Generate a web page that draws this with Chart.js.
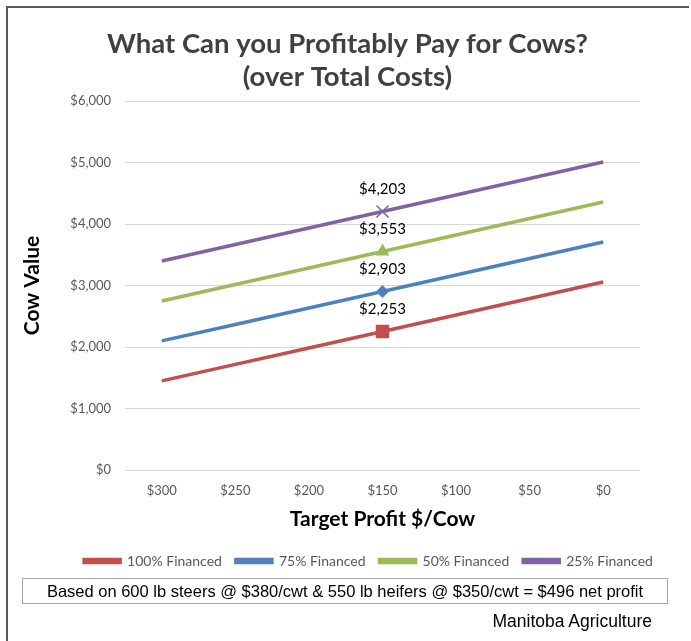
<!DOCTYPE html>
<html>
<head>
<meta charset="utf-8">
<script src="https://cdn.jsdelivr.net/npm/chart.js@4.4.1/dist/chart.umd.min.js"></script>
<style>
  body { margin: 0; background: #fff; }
  #wrap { position: relative; width: 691px; height: 641px; overflow: hidden; background: #fff; }
  #frame { position: absolute; left: 6px; top: 6px; width: 681px; height: 700px;
           border-left: 2px solid #595959; border-top: 2px solid #595959; }
  #cowChart { position: absolute; left: 0; top: 0; }
  #note { position: absolute; left: 22px; top: 578px; width: 644px; height: 24px;
          border: 1px solid #A6A6A6; font: 16.5px "Liberation Sans", Arial, sans-serif;
          color: #000; text-align: center; line-height: 24px; white-space: nowrap; }
  #source { position: absolute; right: 39px; top: 611px;
            font: 17.5px "Liberation Sans", Arial, sans-serif; color: #000; }
</style>
</head>
<body>
<div id="wrap">
  <div id="frame"></div>
  <canvas id="cowChart" width="691" height="641"></canvas>
  <div id="note">Based on 600 lb steers @ $380/cwt &amp; 550 lb heifers @ $350/cwt = $496 net profit</div>
  <div id="source">Manitoba Agriculture</div>
</div>
<script>
const targetProfit = ['$300', '$250', '$200', '$150', '$100', '$50', '$0'];

const financed100 = [1449, 1717, 1985, 2253, 2521, 2789, 3057];
const financed75 = [2099, 2367, 2635, 2903, 3171, 3439, 3707];
const financed50 = [2749, 3017, 3285, 3553, 3821, 4089, 4357];
const financed25 = [3399, 3667, 3935, 4203, 4471, 4739, 5007];

const markedIndex = 3; // only the $150 point gets a marker + label

const FONT = 'Lato, "Open Sans", sans-serif';

function money(v) {
    return '$' + Number(v).toLocaleString('en-US');
}

// radius only on the marked point
function radiusAt(r) {
    return targetProfit.map((_, i) => i === markedIndex ? r : 0);
}

// draws the "$2,253" style labels above the marked points
const pointLabels = {
    id: 'pointLabels',
    afterDatasetsDraw(chart) {
        const ctx = chart.ctx;
        ctx.save();
        ctx.font = '15px ' + FONT;
        ctx.fillStyle = '#000';
        ctx.textAlign = 'center';
        ctx.textBaseline = 'middle';
        chart.data.datasets.forEach((ds, di) => {
            const pt = chart.getDatasetMeta(di).data[markedIndex];
            ctx.fillText(money(ds.data[markedIndex]), pt.x, pt.y - 22);
        });
        ctx.restore();
    }
};

// legend sits a bit right of the title in the original
const legendShift = {
    id: 'legendShift',
    afterLayout(chart) {
        chart.legend.left += 21;
        chart.legend.right += 21;
    }
};

new Chart('cowChart', {
    type: 'line',
    data: {
        labels: targetProfit,
        datasets: [{
            label: '100% Financed',
            data: financed100,
            borderColor: '#C0504D',
            backgroundColor: '#C0504D',
            pointStyle: 'rect',
            pointRadius: radiusAt(9.5),
        }, {
            label: '75% Financed',
            data: financed75,
            borderColor: '#4F81BD',
            backgroundColor: '#4F81BD',
            pointStyle: 'rectRot',
            pointRadius: radiusAt(6.5),
        }, {
            label: '50% Financed',
            data: financed50,
            borderColor: '#9BBB59',
            backgroundColor: '#9BBB59',
            pointStyle: 'triangle',
            pointRadius: radiusAt(8),
        }, {
            label: '25% Financed',
            data: financed25,
            borderColor: '#8064A2',
            backgroundColor: '#8064A2',
            pointStyle: 'crossRot',
            pointRadius: radiusAt(8.5),
            pointBorderWidth: 1.5,
        }]
    },
    options: {
        responsive: false,
        animation: false,
        layout: { padding: { top: 28, left: 10, right: 6, bottom: 63 } },
        elements: {
            line: { borderWidth: 3.5, tension: 0 },
            point: { borderWidth: 0, hoverRadius: 0 }
        },
        scales: {
            x: {
                offset: true,
                grid: { display: false, drawTicks: false },
                border: { display: false },
                ticks: { color: '#595959', font: { family: FONT, size: 13 }, padding: 13 },
                title: {
                    display: true,
                    text: 'Target Profit $/Cow',
                    color: '#000',
                    font: { family: FONT, size: 21, weight: 'bold' },
                    padding: { top: 0, bottom: 8 }
                },
                afterFit(s) {
                    s.height = 70;
                    s.paddingRight = 51; // keeps plot right edge clear of the frame
                }
            },
            y: {
                min: 0,
                max: 6000,
                grid: { color: '#D9D9D9', lineWidth: 1, drawTicks: false },
                border: { display: false },
                ticks: {
                    stepSize: 1000,
                    color: '#595959',
                    font: { family: FONT, size: 13 },
                    padding: 14,
                    callback: v => money(v)
                },
                title: {
                    display: true,
                    text: 'Cow Value',
                    color: '#000',
                    font: { family: FONT, size: 21, weight: 'bold' },
                    padding: { top: 10, bottom: 0 }
                },
                afterFit(s) {
                    s.width = 115;
                }
            }
        },
        plugins: {
            title: {
                display: true,
                text: ['What Can you Profitably Pay for Cows?', '(over Total Costs)'],
                color: '#404040',
                font: { family: FONT, size: 27.5, weight: 'bold', lineHeight: 1.2 },
                padding: { top: 0, bottom: 7 }
            },
            legend: {
                position: 'bottom',
                labels: {
                    boxWidth: 36,
                    boxHeight: 3,
                    padding: 14,
                    color: '#595959',
                    font: { family: FONT, size: 14 }
                }
            },
            tooltip: { enabled: false }
        }
    },
    plugins: [pointLabels, legendShift]
});
</script>
</body>
</html>
